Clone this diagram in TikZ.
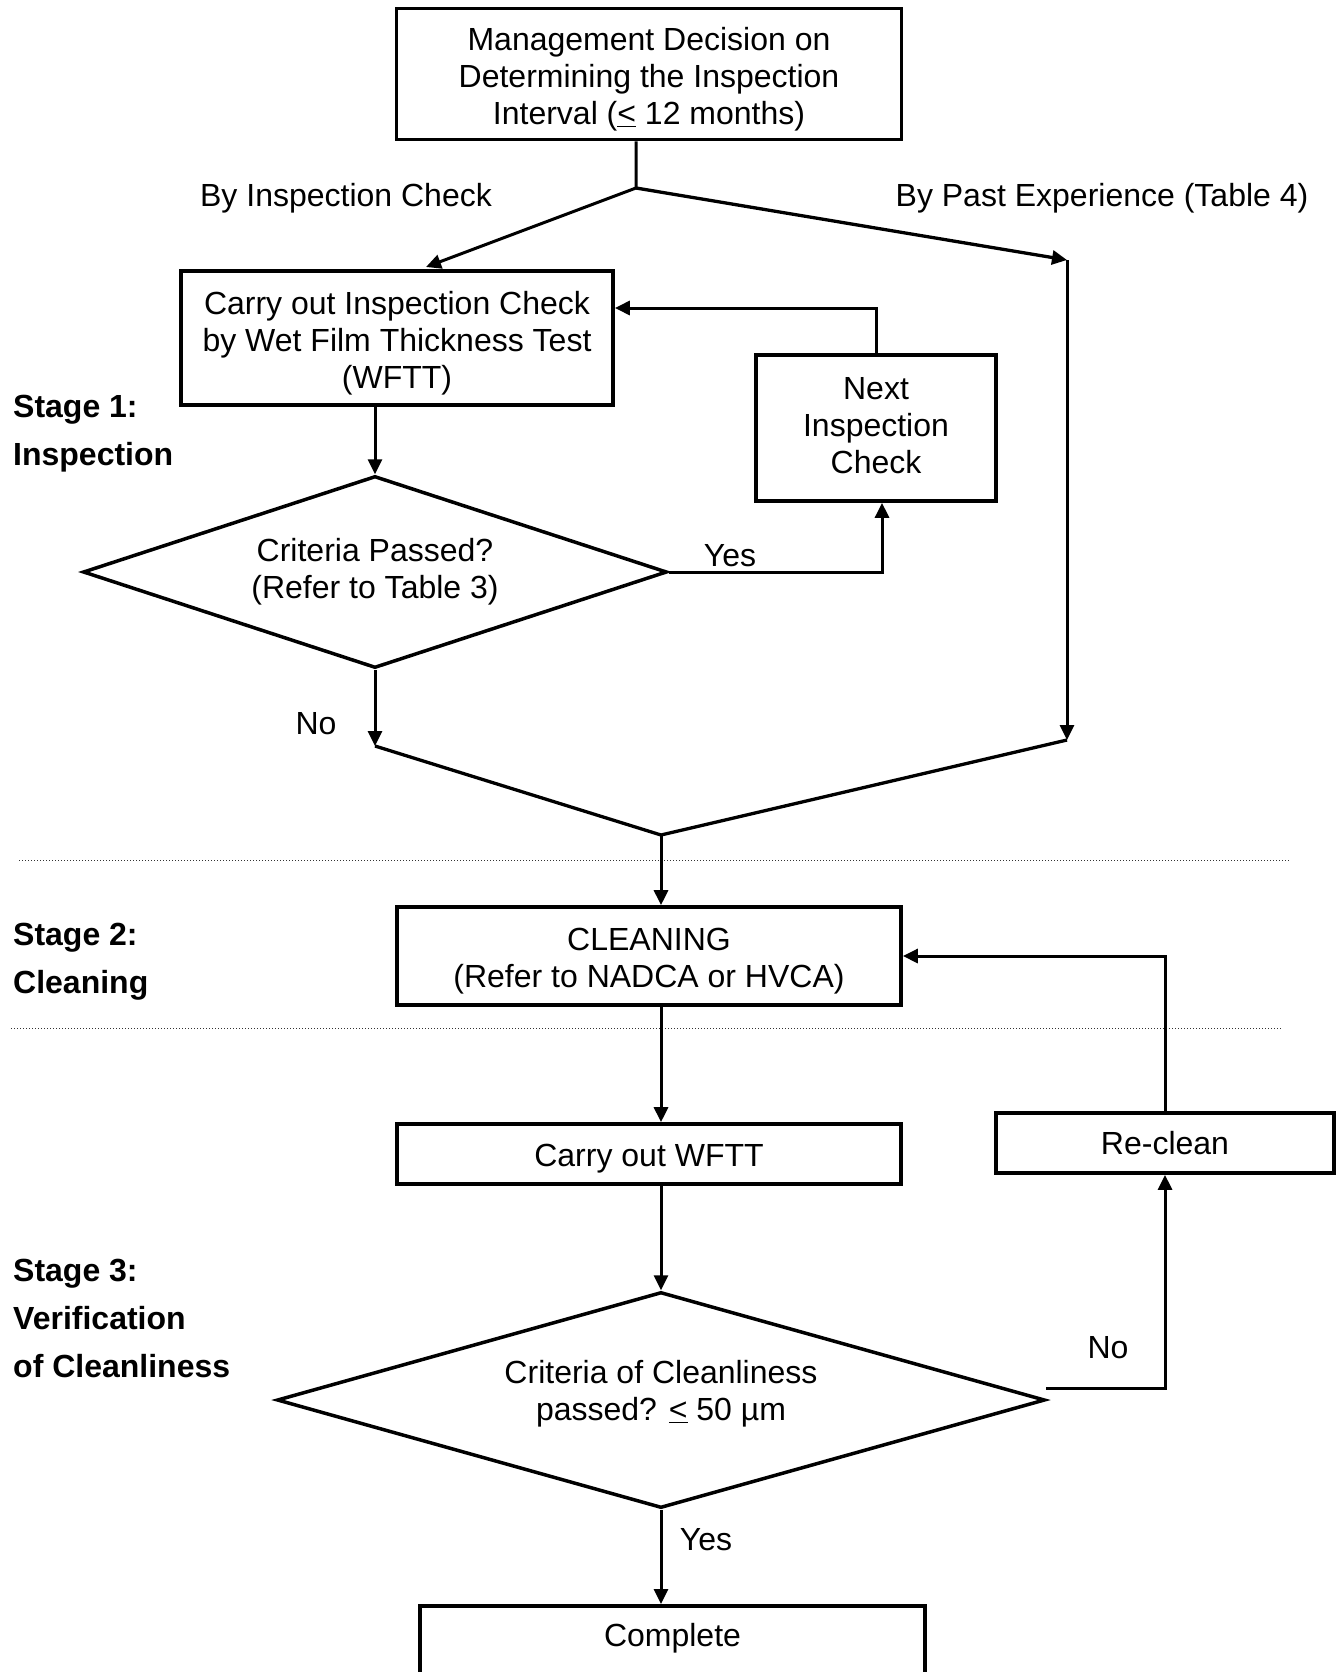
\documentclass[tikz,border=0pt]{standalone}
\usepackage{fontspec}
\setmainfont{Liberation Sans}
\usetikzlibrary{arrows.meta,shapes.geometric}
\begin{document}
\begin{tikzpicture}[x=1pt,y=-1pt,
  every node/.style={font=\fontsize{32}{37}\selectfont},
  box/.style={draw, line width=3.7pt, rectangle, inner sep=0pt, align=center},
  dia/.style={draw, line width=3.5pt, diamond, inner sep=0pt, align=center, shape aspect=#1},
  tip/.style={-{Triangle[length=15pt,width=14pt]}},
  conn/.style={line width=3pt, tip},
  plain/.style={line width=3.3pt},
  lbl/.style={inner sep=0pt},
  stage/.style={inner sep=0pt, anchor=west, align=left, font=\fontsize{32}{48}\selectfont\bfseries},
  sep/.style={line width=1pt, dash pattern=on 1pt off 2pt, black!80}
]
\useasboundingbox (0,0) rectangle (1343,1672);
\fill[white] (0,0) rectangle (1343,1672);
\clip (0,0) rectangle (1343,1672);

% nodes
\node[box, minimum width=505pt, minimum height=131pt] (top) at (649,74)
  {\rule{0pt}{33.5pt}Management Decision on\\Determining the Inspection\\Interval (\underline{<} 12 months)};
\node[box, minimum width=432pt, minimum height=134pt] (ins) at (397,338)
  {\rule{0pt}{34.5pt}Carry out Inspection Check\\by Wet Film Thickness Test\\(WFTT)};
\node[box, minimum width=240pt, minimum height=146pt] (next) at (876,428)
  {Next\\Inspection\\Check\rule[-5.4pt]{0pt}{1pt}};
\node[dia=3.1, minimum width=584pt, minimum height=192pt] (d1) at (375,572)
  {Criteria Passed?\\(Refer to Table 3)};
\node[box, minimum width=504pt, minimum height=98pt] (clean) at (649,956)
  {\rule{0pt}{32pt}CLEANING\\(Refer to NADCA or HVCA)};
\node[box, minimum width=504pt, minimum height=60pt, text height=32pt, text depth=6.6pt] (wftt) at (649,1154)
  {Carry out WFTT};
\node[dia=3.6, minimum width=768pt, minimum height=216pt] (d2) at (661,1400)
  {Criteria of Cleanliness\\passed? \underline{<} 50 µm\rule[-19.6pt]{0pt}{1pt}};
\node[box, minimum width=338pt, minimum height=60pt] (reclean) at (1165,1143)
  {Re-clean};
\node[box, anchor=north, minimum width=505pt, inner ysep=16pt, text height=25pt, text depth=120pt] (complete) at (672.5,1604)
  {Complete};

% labels
\node[lbl] (lic) at (346,198) {By Inspection Check};
\node[lbl] (lpe) at (1102,198) {By Past Experience (Table 4)};
\node[lbl] (lyes1) at (730,556) {Yes};
\node[lbl] (lno1) at (316,724) {No};
\node[lbl] (lno2) at (1108,1348) {No};
\node[lbl] (lyes2) at (706,1540) {Yes};

\node[stage] (s1) at (13,433.5) {Stage 1:\\Inspection};
\node[stage] (s2) at (13,961.5) {Stage 2:\\Cleaning};
\node[stage] (s3) at (13,1318) {Stage 3:\\Verification\\of Cleanliness};

% separators
\draw[sep] (19,860) -- (1289,860);
\draw[sep] (11,1028) -- (1282,1028);

% coordinates
\coordinate (br) at (636,188);
\coordinate (pl) at (426,267);
\coordinate (pr) at (1067,260);
\coordinate (pd) at (1067,740);
\coordinate (pn) at (375,746);
\coordinate (mg) at (661,835);
\coordinate (yloop) at (0,308);
\coordinate (yx) at (882,0);
\coordinate (nd) at (1046,1388);

% connectors
\draw[conn] (top.south -| br) -- (br) -- (pl);
\draw[plain, tip] (br) -- (pr);
\draw[conn] (pr) -- (pd);
\draw[conn] (d1.north |- ins.south) -- (d1.north);
\draw[conn] (next.north) |- (ins.east |- yloop);
\draw[conn] (d1.east) -| (next.south -| yx);
\draw[conn] (d1.south) -- (pn);
\draw[plain, line join=miter] (pn) -- (mg) -- (pd);
\draw[conn] (mg) -- (clean.north -| mg);
\draw[conn] (clean.south -| mg) -- (wftt.north -| mg);
\draw[conn] (d2.north |- wftt.south) -- (d2.north);
\draw[conn] (nd) -| (reclean.south);
\draw[conn] (reclean.north) |- (clean.east);
\draw[conn] (d2.south) -- (complete.north -| d2.south);
\end{tikzpicture}
\end{document}
